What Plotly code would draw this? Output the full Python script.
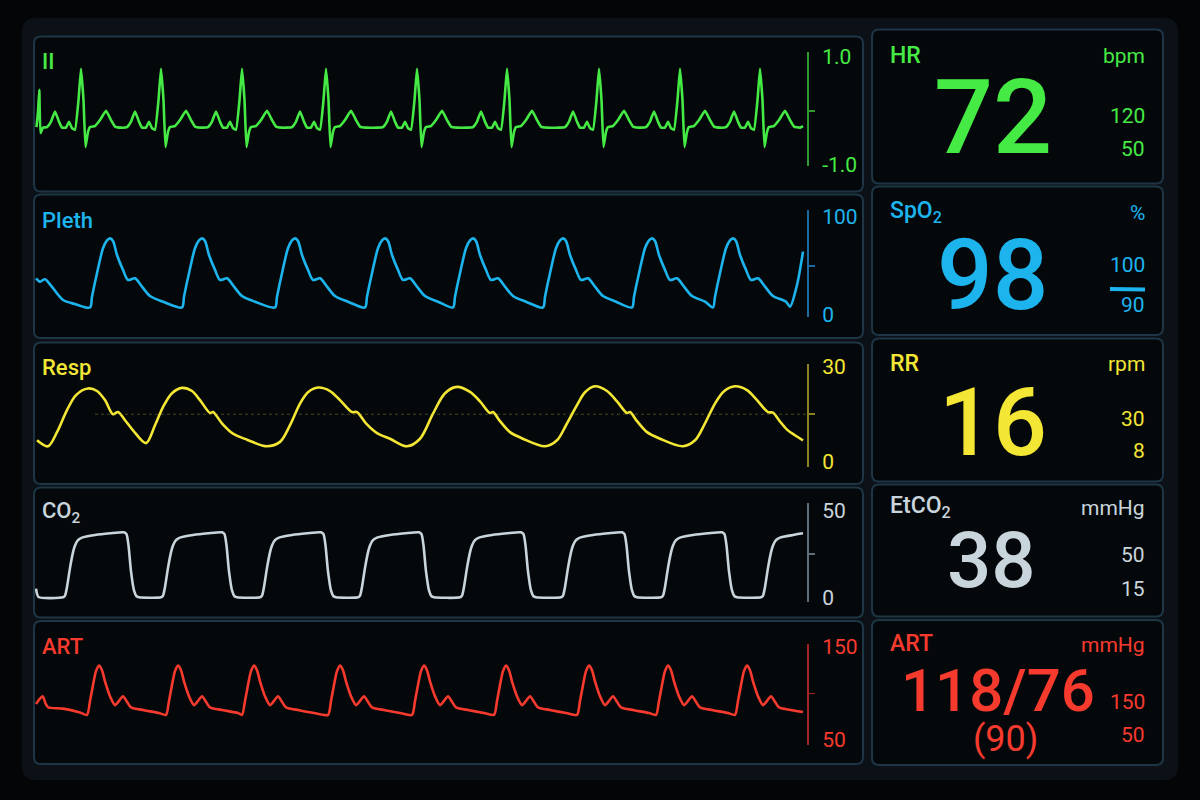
import plotly.graph_objects as go

# ---------------- DATA (time in s, values in channel units) ----------------
T_MAX = 7.72

# ECG lead II (mV)
ecg_prefix_t = [0.015, 0.03, 0.043, 0.055, 0.08]
ecg_prefix_mv = [-0.30, -0.02, 0.39, -0.41, -0.31]
ecg_r_times = [0.46, 1.26, 2.07, 2.91, 3.82, 4.72, 5.64, 6.45, 7.25]
ecg_beat_dt = [-0.40, -0.34, -0.30, -0.26, -0.22, -0.19, -0.15, -0.12, -0.09, -0.06,
               -0.025, 0.0, 0.025, 0.045, 0.07, 0.09, 0.14, 0.19, 0.25, 0.30, 0.34, 0.40]
ecg_beat_mv = [-0.31, -0.30, -0.20, -0.01, -0.20, -0.31, -0.31, -0.20, -0.32, -0.35,
               0.20, 0.78, 0.20, -0.67, -0.39, -0.30, -0.28, -0.17, 0.0, -0.17, -0.29, -0.31]
ecg_suffix_t = [7.68]
ecg_suffix_mv = [-0.28]

# Pleth (%)
pleth_prefix_t = [0.01, 0.05, 0.10, 0.17, 0.28, 0.40]
pleth_prefix = [37.4, 34.0, 36.4, 28.6, 15.3, 11.2]
pleth_peak_times = [0.75, 1.67, 2.60, 3.50, 4.38, 5.28, 6.17, 6.98]
pleth_beat_dt = [-0.20, -0.18, -0.13, -0.07, -0.03, 0.0, 0.03, 0.07, 0.13, 0.18, 0.25, 0.32, 0.40, 0.53]
pleth_beat = [7.7, 18.7, 42.5, 68.0, 76.0, 78.1, 75.5, 61.2, 46.0, 35.7, 37.4, 28.9, 19.4, 13.6]
pleth_suffix_t = [7.55, 7.62, 7.68]
pleth_suffix = [8.5, 30.6, 64.6]

# Respiration
resp_t = [0.02, 0.13, 0.22, 0.32, 0.41, 0.53, 0.62, 0.70, 0.78, 0.83, 0.90, 0.98, 1.11,
          1.20, 1.28, 1.37, 1.47, 1.57, 1.65, 1.75, 1.78, 1.87, 1.98, 2.12, 2.32, 2.45,
          2.55, 2.65, 2.73, 2.83, 2.95, 3.05, 3.17, 3.22, 3.31, 3.42, 3.55, 3.72, 3.85,
          3.98, 4.10, 4.22, 4.35, 4.45, 4.55, 4.58, 4.65, 4.75, 4.88, 5.10, 5.22, 5.31,
          5.42, 5.50, 5.60, 5.72, 5.82, 5.92, 5.95, 6.02, 6.12, 6.25, 6.48, 6.60, 6.70,
          6.80, 6.89, 7.00, 7.12, 7.22, 7.33, 7.38, 7.44, 7.52, 7.60, 7.68]
resp_v = [6.7, 4.8, 9.3, 16.3, 21.1, 23.2, 22.4, 19.5, 15.0, 15.7, 13.1, 9.9, 5.8,
          11.5, 17.3, 21.7, 23.4, 22.4, 19.5, 15.4, 15.7, 12.1, 8.8, 6.9, 4.8, 6.2,
          11.5, 18.4, 22.0, 23.5, 22.4, 19.5, 15.7, 15.7, 12.1, 9.0, 7.2, 4.8, 7.2,
          15.2, 21.7, 23.7, 22.1, 19.1, 15.4, 15.7, 12.8, 9.3, 7.2, 4.8, 6.7, 11.5,
          17.9, 22.0, 23.9, 22.4, 19.1, 15.4, 15.7, 12.8, 9.3, 7.2, 4.8, 6.7, 12.1,
          18.4, 22.3, 23.9, 22.7, 19.5, 15.7, 15.5, 13.1, 10.1, 8.3, 6.7]
resp_ref_level = 15
resp_ref_t = [0.6, T_MAX]

# CO2 (mmHg)
co2_prefix_t = [0.01, 0.035]
co2_prefix = [5.0, 0.2]
co2_rise_times = [0.30, 1.28, 2.27, 3.25, 4.27, 5.28, 6.28, 7.28]
co2_cycle_dt = [-0.02, 0.0, 0.02, 0.05, 0.08, 0.10, 0.13, 0.17, 0.30, 0.45, 0.59, 0.615,
                0.635, 0.66, 0.69, 0.715, 0.74]
co2_cycle = [0.0, 1.0, 6.0, 17.0, 26.0, 30.0, 33.0, 34.5, 36.0, 37.0, 37.6, 36.5,
             30.0, 15.0, 4.0, 0.6, 0.0]
co2_suffix_t = [7.68]
co2_suffix = [37.0]

# Arterial pressure (mmHg)
art_prefix_t = [0.01, 0.045, 0.077, 0.105, 0.13, 0.28, 0.45]
art_prefix = [88.7, 94.0, 97.0, 89.5, 85.2, 83.7, 79.5]
art_peak_times = [0.64, 1.43, 2.19, 3.05, 3.89, 4.71, 5.54, 6.33, 7.12]
art_beat_dt = [-0.12, -0.09, -0.06, -0.03, 0.0, 0.03, 0.06, 0.11, 0.16, 0.20, 0.24,
               0.28, 0.32, 0.45, 0.60]
art_beat = [77.0, 92.0, 109.0, 124.0, 130.0, 125.0, 113.0, 97.0, 87.5, 92.0, 97.0,
            91.0, 85.0, 82.0, 79.0]
art_suffix_t = [7.68]
art_suffix = [80.0]

# Axis ticks per channel
wave_names = ["II", "Pleth", "Resp", "CO<sub>2</sub>", "ART"]
tick_vals = [[-1, 1], [0, 100], [0, 30], [0, 50], [50, 150]]
tick_text = [["-1.0", "1.0"], ["0", "100"], ["0", "30"], ["0", "50"], ["50", "150"]]
mid_ticks = [0, 50, 15, 25, 100]
axis_ranges = [[-1.02, 1.09], [-2, 107], [-1.8, 31], [-2.7, 54.5], [44.6, 153.2]]

# Numeric readouts
vital_names = ["HR", "SpO<sub>2</sub>", "RR", "EtCO<sub>2</sub>", "ART"]
vital_units = ["bpm", "%", "rpm", "mmHg", "mmHg"]
vital_values = ["72", "98", "16", "38", "118/76"]
art_mean = "(90)"
vital_high = ["120", "100", "30", "50", "150"]
vital_low = ["50", "90", "8", "15", "50"]

# ---------------- STYLE ----------------
GREEN, BLUE, YELLOW, GREY, RED = "#45ea45", "#1db4ee", "#f3e634", "#c9d5dc", "#f63a2e"
colors = [GREEN, BLUE, YELLOW, GREY, RED]
axis_colors = ["#2f9a2f", "#1a6aa0", "#8a8420", "#5f6f79", "#a32420"]
FONT = "Roboto"
W, H = 1200, 800


def X(px):
    return px / W


def Y(py):
    return 1 - py / H


def build(pt, pv, centers, dt, dv, st, sv):
    xs, ys = list(pt), list(pv)
    for c in centers:
        for d, v in zip(dt, dv):
            t = round(c + d, 3)
            if xs[-1] < t < st[0]:
                xs.append(t)
                ys.append(v)
    return xs + list(st), ys + list(sv)


waves = [
    build(ecg_prefix_t, ecg_prefix_mv, ecg_r_times, ecg_beat_dt, ecg_beat_mv, ecg_suffix_t, ecg_suffix_mv),
    build(pleth_prefix_t, pleth_prefix, pleth_peak_times, pleth_beat_dt, pleth_beat, pleth_suffix_t, pleth_suffix),
    (resp_t, resp_v),
    build(co2_prefix_t, co2_prefix, co2_rise_times, co2_cycle_dt, co2_cycle, co2_suffix_t, co2_suffix),
    build(art_prefix_t, art_prefix, art_peak_times, art_beat_dt, art_beat, art_suffix_t, art_suffix),
]
shapes_line = [("spline", 0.35), ("spline", 0.8), ("spline", 0.9), ("spline", 0.6), ("spline", 0.7)]

# axis line pixel extents (top, bottom) for each waveform panel
axis_px = [(52, 166), (210, 317), (364, 467), (503, 602), (644, 745)]

fig = go.Figure()
layout_axes = {}
for i in range(5):
    n = "" if i == 0 else str(i + 1)
    xs, ys = waves[i]
    line = dict(color=colors[i], width=2.6, shape=shapes_line[i][0], smoothing=shapes_line[i][1])
    fig.add_trace(go.Scatter(x=xs, y=ys, mode="lines", line=line,
                             xaxis="x" + n, yaxis="y" + n, hoverinfo="skip", showlegend=False))
    top, bot = axis_px[i]
    layout_axes["xaxis" + n] = dict(domain=[X(35), X(807)], range=[0, T_MAX], visible=False,
                                    anchor="y" + n, fixedrange=True)
    layout_axes["yaxis" + n] = dict(
        domain=[Y(bot), Y(top)], range=axis_ranges[i], side="right", anchor="x" + n,
        showline=True, linecolor=axis_colors[i], linewidth=2,
        ticks="", tickvals=tick_vals[i], ticktext=tick_text[i], ticklabelstandoff=9,
        minor=dict(tickvals=[mid_ticks[i]], ticks="outside", ticklen=6, tickwidth=1.5,
                   tickcolor=axis_colors[i], showgrid=False),
        tickfont=dict(family=FONT, size=21, color=colors[i]),
        showgrid=False, zeroline=False, fixedrange=True, automargin=False)

# dotted reference line on respiration channel
fig.add_trace(go.Scatter(x=resp_ref_t, y=[resp_ref_level] * 2, mode="lines",
                         line=dict(color="rgba(200,190,60,0.35)", width=1, dash="dot"),
                         xaxis="x3", yaxis="y3", hoverinfo="skip", showlegend=False))


def rrect(x0, y0, x1, y1, r=7):
    return (f"M {X(x0 + r)},{Y(y0)} L {X(x1 - r)},{Y(y0)} Q {X(x1)},{Y(y0)} {X(x1)},{Y(y0 + r)} "
            f"L {X(x1)},{Y(y1 - r)} Q {X(x1)},{Y(y1)} {X(x1 - r)},{Y(y1)} "
            f"L {X(x0 + r)},{Y(y1)} Q {X(x0)},{Y(y1)} {X(x0)},{Y(y1 - r)} "
            f"L {X(x0)},{Y(y0 + r)} Q {X(x0)},{Y(y0)} {X(x0 + r)},{Y(y0)} Z")


shapes = [dict(type="path", xref="paper", yref="paper", layer="below",
               path=rrect(22, 18, 1178, 780, 14), fillcolor="#0b1116", line=dict(width=0))]
left_boxes = [(34, 36.5, 863, 191.5), (34, 194.5, 863, 338), (34, 342.5, 863, 484),
              (34, 487.5, 863, 617.5), (34, 621, 863, 764)]
right_boxes = [(872, 29.5, 1163, 183.5), (872, 186.5, 1163, 335), (872, 338.5, 1163, 481.5),
               (872, 484.5, 1163, 616.5), (872, 620, 1163, 765)]
for b in left_boxes + right_boxes:
    shapes.append(dict(type="path", xref="paper", yref="paper", layer="below",
                       path=rrect(*b), fillcolor="#05080b",
                       line=dict(color="#1d3545", width=2)))
# SpO2 low-limit marker bar
shapes.append(dict(type="line", xref="paper", yref="paper", x0=X(1110), x1=X(1145),
                   y0=Y(289), y1=Y(289.5), line=dict(color=BLUE, width=4)))

ann = []


def text(s, px, py, size, color, anchor="left", weight=400):
    ann.append(dict(text=s, x=X(px), y=Y(py), xref="paper", yref="paper",
                    xanchor=anchor, yanchor="middle", showarrow=False,
                    font=dict(family=FONT, size=size, color=color, weight=weight)))


# waveform labels
label_py = [61, 220, 367.5, 512.5, 646]
for i in range(5):
    text(wave_names[i], 40, label_py[i], 22, colors[i], weight=500)

# readouts
name_py = [55.5, 211.5, 363, 506.5, 643.5]
value_px = [993, 992, 993, 991, 998]
value_py = [117.5, 275, 422.5, 560, 690]
value_size = [104, 98, 95, 78, 60]
hi_py = [115.5, 265, 419, 555, 701.5]
lo_py = [149, 305, 451, 588.7, 735]
for i in range(5):
    c = colors[i]
    text(vital_names[i], 888, name_py[i], 23, c, weight=500)
    text(vital_units[i], 1147, name_py[i] + 1, 21, c, anchor="right")
    text(vital_values[i], value_px[i], value_py[i], value_size[i], c, anchor="center", weight=500)
    text(vital_high[i], 1147, hi_py[i], 21, c, anchor="right")
    text(vital_low[i], 1147, lo_py[i], 21, c, anchor="right")
text(art_mean, 1005, 738.7, 36, RED, anchor="center")

fig.update_layout(width=W, height=H, margin=dict(l=0, r=0, t=0, b=0, pad=0, autoexpand=False),
                  paper_bgcolor="#040506", plot_bgcolor="rgba(0,0,0,0)",
                  shapes=shapes, annotations=ann, showlegend=False, **layout_axes)

fig.write_html("out.html", config={"displayModeBar": False, "staticPlot": True},
               post_script="document.body.style.margin='0';document.body.style.overflow='hidden';"
                           "document.documentElement.style.overflow='hidden';")
